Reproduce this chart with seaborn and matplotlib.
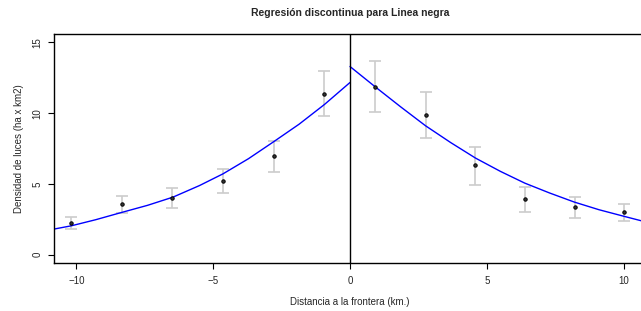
import numpy as np
import pandas as pd
import matplotlib
matplotlib.use("Agg")
import matplotlib.pyplot as plt
import seaborn as sns

# bins (medias por intervalo de distancia)
bin_x = [-10.2, -8.34, -6.49, -4.64, -2.79, -0.94, 0.93, 2.76, 4.57, 6.40, 8.22, 10.03]
bin_y = [2.22, 3.54, 4.01, 5.17, 6.96, 11.37, 11.85, 9.84, 6.30, 3.94, 3.35, 3.00]
ci_lo = [1.80, 2.97, 3.28, 4.32, 5.87, 9.77, 10.05, 8.26, 4.93, 3.04, 2.58, 2.38]
ci_hi = [2.65, 4.13, 4.74, 6.02, 8.02, 13.00, 13.66, 11.47, 7.64, 4.81, 4.10, 3.57]

# curvas ajustadas
izq_x = [-10.82, -10.19, -9.3, -8.36, -7.4, -6.47, -5.5, -4.64, -3.71, -2.79, -1.86, -0.93, 0.0]
izq_y = [1.80, 2.03, 2.46, 2.97, 3.48, 4.06, 4.88, 5.71, 6.78, 7.98, 9.22, 10.62, 12.17]
der_x = [0.0, 0.93, 1.85, 2.76, 3.68, 4.59, 5.5, 6.39, 7.3, 8.2, 9.1, 10.04, 10.82]
der_y = [13.30, 11.85, 10.45, 9.11, 7.92, 6.82, 5.88, 5.05, 4.35, 3.71, 3.17, 2.69, 2.30]

sns.set_style("ticks")
plt.rcParams['font.family'] = ['Liberation Sans', 'DejaVu Sans']

fig = plt.figure(figsize=(6.41, 3.11), dpi=100)
ax = fig.add_axes([54 / 641, 48 / 311, 592 / 641, 229 / 311])

bins = pd.DataFrame({'x': bin_x, 'y': bin_y, 'lo': ci_lo, 'hi': ci_hi})
izq = pd.DataFrame({'x': izq_x, 'y': izq_y})
der = pd.DataFrame({'x': der_x, 'y': der_y})

ax.errorbar(bins['x'], bins['y'],
            yerr=[bins['y'] - bins['lo'], bins['hi'] - bins['y']],
            fmt='none', ecolor='#cccccc', elinewidth=1.2, capsize=4, capthick=1.2, zorder=1)
sns.lineplot(data=izq, x='x', y='y', color='blue', lw=1.0, sort=False, estimator=None, ax=ax, zorder=2)
sns.lineplot(data=der, x='x', y='y', color='blue', lw=1.0, sort=False, estimator=None, ax=ax, zorder=2)
sns.scatterplot(data=bins, x='x', y='y', color='#333333', edgecolor='black', s=6, linewidth=0.7, ax=ax, zorder=3)
ax.axvline(0, color='black', lw=1.0, zorder=2)

ax.set_xlim(-10.82, 10.82)
ax.set_ylim(-0.6, 15.6)
ax.set_xticks([-10, -5, 0, 5, 10])
ax.set_xticklabels(['\u221210', '\u22125', '0', '5', '10'])
ax.set_yticks([0, 5, 10, 15])
for lab in ax.get_yticklabels():
    lab.set_rotation(90)
    lab.set_va('center')
ax.tick_params(axis='both', length=4.3, width=0.8, labelsize=7, color='black', pad=5)
ax.tick_params(axis='y', pad=4)

for s in ['left', 'top', 'bottom', 'right']:
    ax.spines[s].set_linewidth(1.0)
    ax.spines[s].set_color('black')

ax.set_xlabel('Distancia a la frontera (km.)', fontsize=7, labelpad=8)
ax.set_ylabel('Densidad de luces (ha x km2)', fontsize=7, labelpad=6)
ax.set_title('Regresión discontinua para Linea negra', fontsize=7.5, fontweight='bold', pad=13)

fig.savefig('out.png', dpi=100)
